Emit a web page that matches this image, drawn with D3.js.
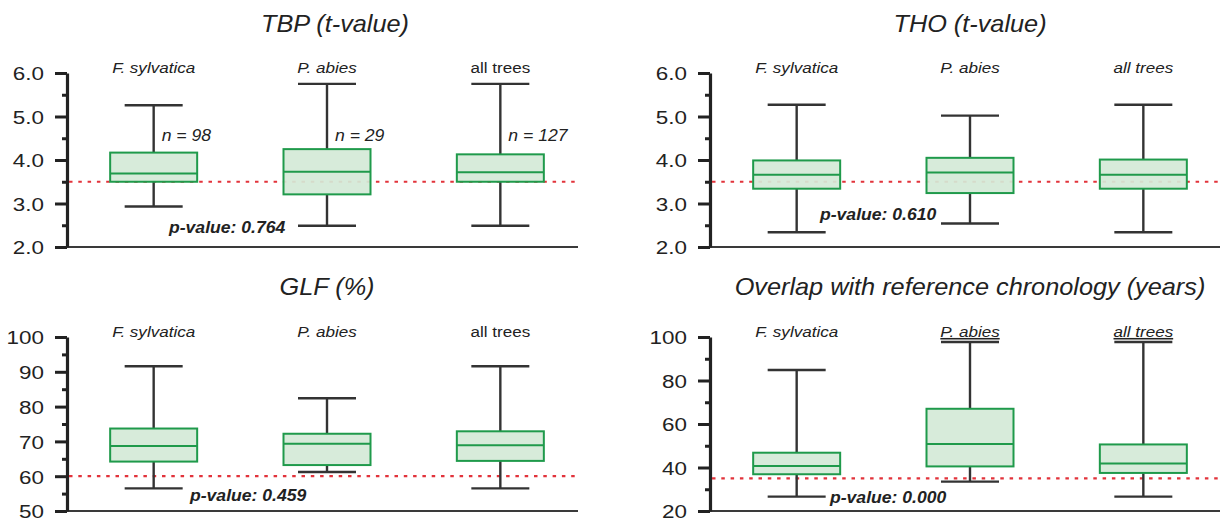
<!DOCTYPE html>
<html><head><meta charset="utf-8">
<script src="https://cdn.jsdelivr.net/npm/d3@7"></script>
<style>body{margin:0;background:#fff}svg{display:block}</style>
</head><body>
<svg id="c" width="1220" height="522"></svg>
<script>
// ---- data ----
const categories = ["F. sylvatica", "P. abies", "all trees"];
// [min, Q1, median, Q3, max]
const tbpStats = [[2.93, 3.50, 3.69, 4.17, 5.26], [2.49, 3.21, 3.73, 4.25, 5.75], [2.49, 3.50, 3.72, 4.13, 5.75]];
const thoStats = [[2.34, 3.34, 3.66, 3.99, 5.27], [2.54, 3.24, 3.71, 4.05, 5.02], [2.34, 3.34, 3.66, 4.01, 5.27]];
const glfStats = [[56.5, 64.2, 68.7, 73.7, 91.6], [61.2, 63.2, 69.3, 72.2, 82.4], [56.5, 64.4, 68.9, 72.9, 91.6]];
const overlapStats = [[26.6, 36.9, 40.7, 46.8, 84.8], [33.5, 40.5, 50.8, 67.0, 97.7], [26.6, 37.5, 41.8, 50.6, 97.7]];
const panelTitles = ["TBP (t-value)", "THO (t-value)", "GLF (%)", "Overlap with reference chronology (years)"];
const tValueTicks = [2, 3, 4, 5, 6];
const glfTicks = [50, 60, 70, 80, 90, 100];
const overlapTicks = [20, 40, 60, 80, 100];
const thresholds = [3.5, 3.5, 60, 35];
const pValueLabels = ["p-value: 0.764", "p-value: 0.610", "p-value: 0.459", "p-value: 0.000"];
const nLabels = ["n = 98", "n = 29", "n = 127"];

// ---- layout / style ----
const FONT = "'Liberation Sans', Arial, Helvetica, sans-serif";
const SX = 1.1;
const panels = [
  {stats: tbpStats, ticks: tValueTicks, fmt: d3.format(".1f"), x0: 67, xEnd: 578, yTop: 73, yBot: 247,
   titleDx: 8, titleY: 32, pX: 102, pY: 233, italic: [true, true, false], underline: [false, false, false], showN: true},
  {stats: thoStats, ticks: tValueTicks, fmt: d3.format(".1f"), x0: 710, xEnd: 1222, yTop: 73, yBot: 247,
   titleDx: 0, titleY: 32, pX: 110, pY: 220, italic: [true, true, true], underline: [false, false, false], showN: false},
  {stats: glfStats, ticks: glfTicks, fmt: d3.format("d"), x0: 67, xEnd: 578, yTop: 337, yBot: 511,
   titleDx: 0, titleY: 295, pX: 123, pY: 501, italic: [true, true, false], underline: [false, false, false], showN: false},
  {stats: overlapStats, ticks: overlapTicks, fmt: d3.format("d"), x0: 710, xEnd: 1222, yTop: 337, yBot: 511,
   titleDx: 0, titleY: 295, pX: 120, pY: 503, italic: [true, true, true], underline: [false, true, true], showN: false}
];

const svg = d3.select("#c");
svg.append("rect").attr("width", 1220).attr("height", 522).attr("fill", "#fff");

function stretchedText(g, x, y, str, opts) {
  const t = g.append("text")
    .attr("transform", `translate(${x},${y}) scale(${SX},1)`)
    .attr("font-family", FONT)
    .attr("font-size", opts.size)
    .attr("font-style", opts.italic ? "italic" : "normal")
    .attr("font-weight", opts.bold ? "bold" : "normal")
    .attr("text-anchor", opts.anchor || "start")
    .attr("fill", "#222")
    .text(str);
  if (opts.underline) t.attr("text-decoration", "underline");
  return t;
}

panels.forEach((p, pi) => {
  const g = svg.append("g");
  const lo = p.ticks[0], hi = p.ticks[p.ticks.length - 1];
  const step = p.ticks[1] - p.ticks[0];
  const y = d3.scaleLinear().domain([lo, hi]).range([p.yBot, p.yTop]);
  const x = d3.scalePoint().domain(categories).range([p.x0, p.x0 + 520]).padding(0.5);

  // x axis line
  g.append("line").attr("x1", p.x0).attr("x2", p.xEnd).attr("y1", p.yBot).attr("y2", p.yBot)
    .attr("stroke", "#3a3a3a").attr("stroke-width", 2);

  // minor ticks
  const minors = d3.range(lo + step / 2, hi, step);
  const minorAxis = d3.axisLeft(y).tickValues(minors).tickSize(5).tickSizeOuter(0).tickFormat("");
  const gm = g.append("g").attr("transform", `translate(${p.x0},0)`).call(minorAxis);
  gm.select(".domain").remove();
  gm.selectAll(".tick line").attr("stroke", "#222").attr("stroke-width", 3);

  // major axis
  const majorAxis = d3.axisLeft(y).tickValues(p.ticks).tickSize(12).tickSizeOuter(0).tickPadding(11).tickFormat(p.fmt);
  const ga = g.append("g").attr("transform", `translate(${p.x0},0)`).call(majorAxis);
  ga.select(".domain").attr("stroke", "#222").attr("stroke-width", 3.2);
  ga.selectAll(".tick line").attr("stroke", "#222").attr("stroke-width", 3);
  ga.selectAll(".tick text")
    .attr("font-family", FONT).attr("font-size", 19).attr("fill", "#222")
    .attr("x", -23 / 1.18).attr("dy", "0.36em")
    .attr("transform", "scale(1.18,1)");

  // threshold (red dotted)
  g.append("line").attr("x1", p.x0 + 2).attr("x2", p.xEnd).attr("y1", y(thresholds[pi])).attr("y2", y(thresholds[pi]))
    .attr("stroke", "#e2333b").attr("stroke-width", 2.2).attr("stroke-dasharray", "3.5,5.8");

  // boxes
  const boxW = 87, capW = 58;
  categories.forEach((c, ci) => {
    const [mn, q1, md, q3, mx] = p.stats[ci];
    const cx = x(c);
    const bg = g.append("g");
    bg.append("line").attr("x1", cx).attr("x2", cx).attr("y1", y(mx)).attr("y2", y(q3))
      .attr("stroke", "#333").attr("stroke-width", 2.4);
    bg.append("line").attr("x1", cx).attr("x2", cx).attr("y1", y(q1)).attr("y2", y(mn))
      .attr("stroke", "#333").attr("stroke-width", 2.4);
    bg.append("line").attr("x1", cx - capW / 2).attr("x2", cx + capW / 2).attr("y1", y(mx)).attr("y2", y(mx))
      .attr("stroke", "#333").attr("stroke-width", 2.4);
    bg.append("line").attr("x1", cx - capW / 2).attr("x2", cx + capW / 2).attr("y1", y(mn)).attr("y2", y(mn))
      .attr("stroke", "#333").attr("stroke-width", 2.4);
    bg.append("rect").attr("x", cx - boxW / 2).attr("width", boxW)
      .attr("y", y(q3)).attr("height", y(q1) - y(q3))
      .attr("fill", "#d4e9d7").attr("fill-opacity", 0.92).attr("stroke", "#1f9a4b").attr("stroke-width", 2);
    bg.append("line").attr("x1", cx - boxW / 2).attr("x2", cx + boxW / 2).attr("y1", y(md)).attr("y2", y(md))
      .attr("stroke", "#1f9a4b").attr("stroke-width", 2);

    // category label
    stretchedText(g, cx, p.yTop, c, {size: 15.5, italic: p.italic[ci], anchor: "middle", underline: p.underline[ci]});
    if (p.showN) stretchedText(g, cx + 8, 141, nLabels[ci], {size: 16, italic: true});
  });

  // title
  stretchedText(g, x(categories[1]) + p.titleDx, p.titleY, panelTitles[pi], {size: 23, italic: true, anchor: "middle"});
  // p-value
  stretchedText(g, p.x0 + p.pX, p.pY, pValueLabels[pi], {size: 16, italic: true, bold: true});
});
</script>
</body></html>
